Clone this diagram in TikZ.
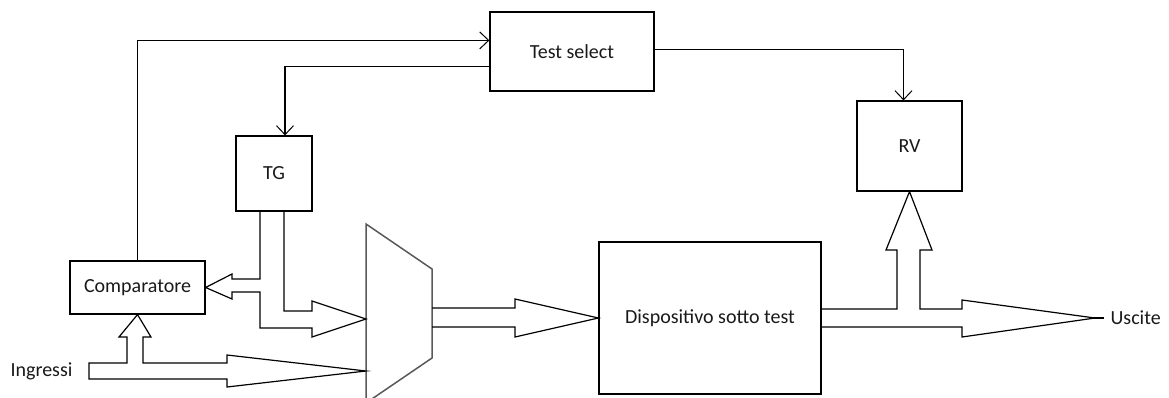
\documentclass[tikz,border=0pt]{standalone}
\usepackage{fontspec}
\setmainfont{Carlito}
\usetikzlibrary{arrows.meta,calc}
\begin{document}
\begin{tikzpicture}[x=1pt,y=-1pt,
  line width=1.2pt, line join=miter,
  every node/.style={font=\fontsize{20pt}{24pt}\selectfont, text=black!90},
  blk/.style={draw, minimum width=#1, inner sep=0pt},
  arr/.style={-{Straight Barb[length=9pt,width=17pt,line width=1pt]}},
  band/.style={draw, line width=1.2pt},
  muxline/.style={draw=black!65, line width=1.5pt}]
\useasboundingbox (0,0) rectangle (1169,398);

% blocks
\node[blk=164pt, minimum height=79pt] (ts)   at (572,51.5)  {Test select};
\node[blk=105pt, minimum height=90pt] (rv)   at (909.5,146) {RV};
\node[blk=76pt,  minimum height=75pt] (tg)   at (274,173.5) {TG};
\node[blk=135pt, minimum height=53pt] (comp) at (137.5,287.5) {Comparatore};
\node[blk=222pt, minimum height=152pt] (dut) at (710,318)   {Dispositivo sotto test};
\node[anchor=west, inner sep=0pt] (in)  at (10,371) {Ingressi};
\node[anchor=west, inner sep=0pt] (out) at (1110,318) {Uscite};

% multiplexer
\begin{scope}
\clip (0,0) rectangle (1169,398);
\path[muxline] (366,224) coordinate (mtl) -- (432,269) -- (432,358) -- (366,403) -- cycle;
\end{scope}

% control lines
\draw[arr] (comp.north) |- ($(ts.north west)+(0,29)$);
\draw[arr] ($(ts.north west)+(0,55)$) -| ($(tg.north)+(11,0)$);
\draw[arr] ($(ts.north east)+(0,38)$) -| ($(rv.north)+(-6,0)$);

% input bus: to the comparator and to the multiplexer
\draw[band] (89,363) -- (127,363) -- (127,337) -- (119,337) -- (comp.south)
  -- (151,337) -- (143,337) -- (143,363) -- (227,363) -- (227,355)
  -- (366,371) -- (227,387) -- (227,379) -- (89,379) -- cycle;

% test generator bus: to the comparator and to the multiplexer
\draw[band] (260,211) -- (260,279) -- (232,279) -- (232,274) -- (comp.east)
  -- (232,299) -- (232,292) -- (260,292) -- (260,328) -- (312,328)
  -- (312,337) -- (366,319) -- (312,301) -- (312,311) -- (284,311) -- (284,211);

% multiplexer to device under test
\draw[band] (432,308) -- (515,308) -- (515,299) -- (dut.west)
  -- (515,337) -- (515,327) -- (432,327);

% outputs: to the response verifier and out
\draw[band] (dut.east |- 0,309) -- (897,309) -- (897,250) -- (886,250) -- (rv.south)
  -- (932,250) -- (920,250) -- (920,309) -- (962,309) -- (962,300)
  -- (1095,318) -- (962,337) -- (962,327) -- (dut.east |- 0,327);
\draw[line width=2pt] (1092,318) -- ($(out.west)+(-6,0)$);
\end{tikzpicture}
\end{document}
